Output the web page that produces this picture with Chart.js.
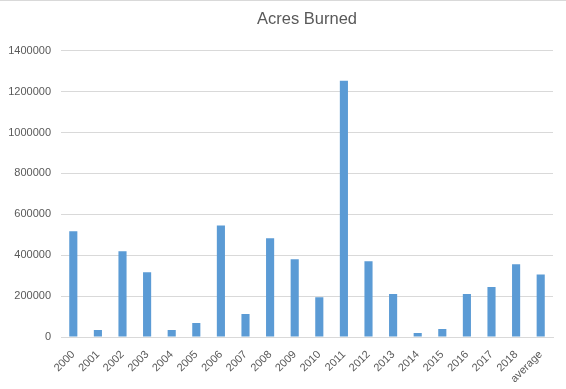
<!DOCTYPE html>
<html>
<head>
<meta charset="utf-8">
<script src="https://cdn.jsdelivr.net/npm/chart.js@4"></script>
<style>
  html, body { margin: 0; padding: 0; background: #fff; }
  #wrap { width: 566px; height: 389px; border-top: 1px solid #d9d9d9; box-sizing: border-box; }
</style>
</head>
<body>
<div id="wrap"><canvas id="fireChart" width="566" height="388"></canvas></div>
<script>
// categorias (anos) e valores
const years = ["2000", "2001", "2002", "2003", "2004", "2005", "2006", "2007", "2008", "2009",
    "2010", "2011", "2012", "2013", "2014", "2015", "2016", "2017", "2018", "average"];
const acres = [517000, 34000, 420000, 317000, 34000, 68000, 546000, 112000, 483000, 380000,
    195000, 1254000, 371000, 210000, 20000, 39000, 210000, 244000, 356000, 306000];
const yMax = 1400000;
const yStep = 200000;

const textColor = "#595959";
const gridColor = "#d9d9d9";

const ctx = document.getElementById("fireChart").getContext("2d");
const fireChart = new Chart(ctx, {
    type: "bar",
    data: {
        labels: years,
        datasets: [
            {
                label: "Acres Burned",
                data: acres,
                backgroundColor: "#5b9bd5",
                barPercentage: 0.33,
                categoryPercentage: 1,
            },
        ],
    },
    options: {
        responsive: false,
        animation: false,
        layout: {
            padding: { left: 0, right: 13, top: 0, bottom: 0 },
        },
        plugins: {
            legend: { display: false },
            tooltip: { enabled: false },
            title: {
                display: true,
                fullSize: false, // centraliza sobre a area do grafico
                text: "Acres Burned",
                color: textColor,
                font: { family: "Liberation Sans", size: 16.5, weight: "normal" },
                padding: { top: 9, bottom: 21 },
            },
        },
        scales: {
            x: {
                grid: { display: false },
                border: { color: gridColor },
                ticks: {
                    color: textColor,
                    font: { family: "Liberation Sans", size: 11 },
                    maxRotation: 45,
                    minRotation: 45,
                    padding: 3,
                },
                afterFit: (scale) => { scale.height = 52; },
            },
            y: {
                min: 0,
                max: yMax,
                grid: { color: gridColor, drawTicks: false },
                border: { display: false },
                ticks: {
                    stepSize: yStep,
                    color: textColor,
                    font: { family: "Liberation Sans", size: 11 },
                    padding: 10,
                    callback: (value) => String(value),
                },
                afterFit: (scale) => { scale.width = 61; },
            },
        },
    },
});
</script>
</body>
</html>
